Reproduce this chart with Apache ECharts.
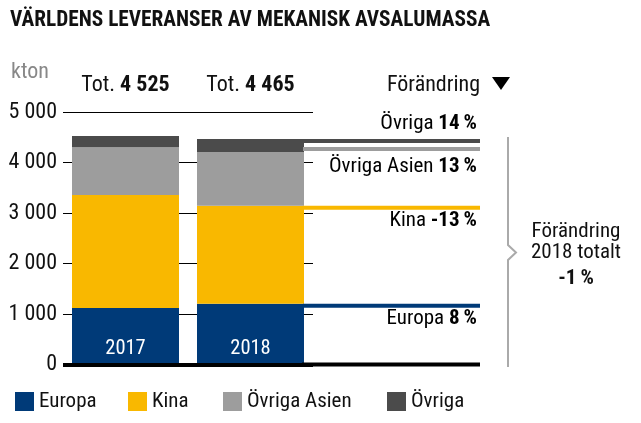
<!DOCTYPE html>
<html>
<head>
<meta charset="utf-8">
<script src="https://cdn.jsdelivr.net/npm/echarts@6/dist/echarts.min.js"></script>
<style>
html,body{margin:0;padding:0;background:#fff;}
#chart{width:641px;height:423px;}
</style>
</head>
<body>
<div id="chart"></div>
<script>
const categories = ['2017', '2018'];
const seriesNames = ['Europa', 'Kina', 'Övriga Asien', 'Övriga'];
const europa = [1120, 1205];
const kina = [2236, 1940];
const ovrigaAsien = [945, 1064];
const ovriga = [224, 256];
const yTicks = [0, 1000, 2000, 3000, 4000, 5000];
const colors = ['#003a78', '#f9b800', '#9d9d9d', '#4b4b4b'];

const FONT = "'Roboto Condensed', 'Liberation Sans Narrow', Roboto, 'DejaVu Sans Condensed', sans-serif";
const FS = 21;
const FS_NUM = 22;
const BAR_W = 107;
const EXT_END = 480;
const legendLeft = [10, 123, 218, 382];

const seriesData = [europa, kina, ovrigaAsien, ovriga];
const totals = categories.map((c, i) => seriesData.reduce((s, arr) => s + arr[i], 0));
const fmt = v => String(v).replace(/\B(?=(\d{3})+(?!\d))/g, ' ');
const pct = (a, b) => Math.round((b / a - 1) * 100);
const changes = seriesData.map(arr => pct(arr[0], arr[1]));
const totalChange = pct(totals[0], totals[1]);

const tops2018 = [];
let acc = 0;
seriesData.forEach(arr => { acc += arr[1]; tops2018.push(acc); });
const extData = tops2018.map((t, i) => [1, t, i]);

const chart = echarts.init(document.getElementById('chart'), null, {renderer: 'canvas'});

const barSeries = seriesNames.map((name, i) => ({
  name: name,
  type: 'bar',
  stack: 'total',
  barWidth: BAR_W,
  data: seriesData[i],
  itemStyle: {color: colors[i]},
  emphasis: {disabled: true},
  z: 3
}));

const legends = seriesNames.map((name, i) => ({
  left: legendLeft[i], top: 386,
  itemWidth: 19, itemHeight: 19, itemGap: 0,
  icon: 'rect',
  selectedMode: false,
  textStyle: {fontFamily: FONT, fontSize: FS, color: '#111'},
  data: [name]
}));

const option = {
  animation: false,
  textStyle: {fontFamily: FONT},
  legend: legends,
  grid: {left: 63, right: 328, top: 112, bottom: 58.5, containLabel: false},
  xAxis: [{
    type: 'category',
    data: categories,
    position: 'bottom',
    axisLine: {show: true, lineStyle: {color: '#000', width: 4, cap: 'butt'}},
    axisTick: {show: false},
    axisLabel: {inside: true, interval: 0, margin: 16, color: '#fff', fontFamily: FONT, fontSize: 20.5, verticalAlign: 'middle'},
    z: 10
  }, {
    type: 'category',
    data: categories,
    position: 'top',
    axisLine: {show: false},
    axisTick: {show: false},
    splitLine: {show: false},
    axisLabel: {
      interval: 0,
      margin: 16,
      fontFamily: FONT, fontSize: FS_NUM, color: '#111',
      formatter: (v, i) => 'Tot. {b|' + fmt(totals[i]) + '}',
      rich: {b: {fontFamily: FONT, fontSize: FS_NUM, fontWeight: 'bold', color: '#111'}}
    }
  }],
  yAxis: {
    type: 'value',
    min: 0, max: 5000, interval: 1000,
    axisLine: {show: false},
    axisTick: {show: false},
    axisLabel: {
      margin: 6, fontFamily: FONT, fontSize: FS_NUM, color: '#111',
      formatter: v => yTicks.indexOf(v) >= 0 ? fmt(v) : ''
    },
    splitLine: {show: true, lineStyle: {color: '#000', width: 1}}
  },
  series: barSeries.concat([{
    type: 'custom',
    name: 'ext',
    coordinateSystem: 'cartesian2d',
    clip: false,
    silent: true,
    z: 4,
    encode: {x: 0, y: 1},
    data: extData,
    renderItem: function (params, api) {
      const cat = api.value(0);
      const top = api.value(1);
      const idx = api.value(2);
      const c = api.coord([cat, top]);
      const left = c[0] + BAR_W / 2;
      let y = c[1];
      if (idx < tops2018.length - 1) {
        const yAbove = api.coord([cat, tops2018[idx + 1]])[1];
        if (y - yAbove < 16) y = yAbove + 8;
      }
      const isTop = idx === tops2018.length - 1;
      const labelY = isTop ? c[1] - 15 : c[1] + 15;
      const p = changes[idx];
      return {
        type: 'group',
        children: [{
          type: 'rect',
          shape: {x: left - 1, y: y, width: EXT_END - left + 1, height: 4},
          style: {fill: colors[idx]}
        }, {
          type: 'text',
          x: EXT_END - 3, y: labelY,
          style: {
            text: '{n|' + seriesNames[idx] + ' }{p|' + p + '\u2009%}',
            align: 'right', verticalAlign: 'middle',
            rich: {
              n: {fontFamily: FONT, fontSize: FS, color: '#111'},
              p: {fontFamily: FONT, fontSize: FS, fontWeight: 'bold', color: '#111'}
            }
          }
        }]
      };
    }
  }, {
    type: 'custom',
    name: 'base',
    coordinateSystem: 'cartesian2d',
    clip: false,
    silent: true,
    z: 4,
    encode: {x: 0, y: 1},
    data: [[1, 0]],
    renderItem: function (params, api) {
      const c = api.coord([api.value(0), 0]);
      const left = c[0] + BAR_W / 2 - 2;
      return {
        type: 'rect',
        shape: {x: left, y: c[1] - 2, width: EXT_END - left, height: 4},
        style: {fill: '#000'}
      };
    }
  }]),
  graphic: [{
    type: 'text', x: 10, y: 21,
    style: {text: 'VÄRLDENS LEVERANSER AV MEKANISK AVSALUMASSA', fill: '#111', font: 'bold 21.3px ' + FONT, verticalAlign: 'middle'}
  }, {
    type: 'text', x: 11, y: 72,
    style: {text: 'kton', fill: '#888', font: FS_NUM + 'px ' + FONT, verticalAlign: 'middle'}
  }, {
    type: 'text', x: EXT_END, y: 85,
    style: {text: 'Förändring', fill: '#111', font: FS_NUM + 'px ' + FONT, align: 'right', verticalAlign: 'middle'}
  }, {
    type: 'polygon',
    shape: {points: [[492, 77], [510, 77], [501, 90]]},
    style: {fill: '#000'}
  }, {
    type: 'polyline',
    shape: {points: [[508, 137], [508, 245], [516, 252.5], [508, 260], [508, 367]]},
    style: {stroke: '#aaa', lineWidth: 2, fill: null}
  }, {
    type: 'text', x: 576, y: 231.5,
    style: {text: 'Förändring', fill: '#111', font: FS + 'px ' + FONT, align: 'center', verticalAlign: 'middle'}
  }, {
    type: 'text', x: 576, y: 253,
    style: {text: categories[1] + ' totalt', fill: '#111', font: FS + 'px ' + FONT, align: 'center', verticalAlign: 'middle'}
  }, {
    type: 'text', x: 576, y: 279,
    style: {text: totalChange + '\u2009%', fill: '#111', font: 'bold ' + FS + 'px ' + FONT, align: 'center', verticalAlign: 'middle'}
  }]
};

chart.setOption(option);
</script>
</body>
</html>
